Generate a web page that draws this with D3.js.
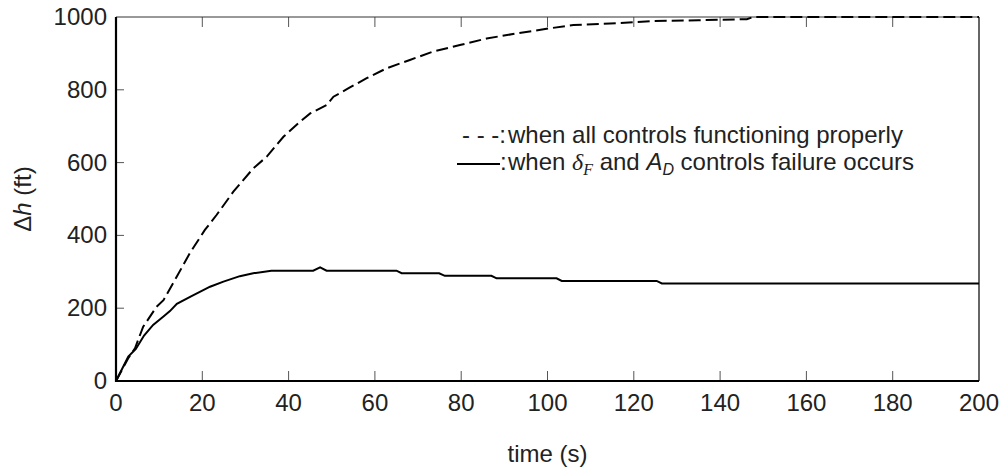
<!DOCTYPE html>
<html>
<head>
<meta charset="utf-8">
<script src="https://cdn.jsdelivr.net/npm/d3@7"></script>
<style>
  body { margin: 0; background: #fff; }
  text { font-family: "Liberation Sans", Arial, Helvetica, sans-serif; fill: #222; }
</style>
</head>
<body>
<svg id="chart" width="1008" height="469"></svg>
<script>
// time (s) and altitude change (ft), all controls OK
const timeFull = [0, 2.8, 4.4, 6.3, 9.4, 11, 14.1, 17.1, 20.6, 23.3, 27.2, 31.8, 34.9, 38.8, 42.6, 45, 48.8, 50.4, 54, 58.1, 62.7, 68.1, 73.5, 79.7, 85.9, 92.9, 100.6, 106, 114.5, 124.5, 135, 146.2, 147.7, 200];
const dhFull   = [0, 62, 90, 149, 204, 222, 287, 351, 415, 456, 520, 584, 616, 671, 712, 735, 758, 781, 805, 832, 859, 882, 905, 923, 941, 955, 969, 978, 982, 989, 991, 994, 1000, 1000];

// dF and AD controls failed
const timeFail = [0, 2.85, 4.6, 6.5, 8.6, 11, 12.5, 14.1, 17.5, 21.8, 24.9, 28.7, 31.8, 36, 45.7, 47.3, 48.8, 65, 66.2, 74.9, 76.2, 87, 88.2, 102.1, 103.3, 125.3, 126.5, 200];
const dhFail   = [0, 67, 88, 125, 154, 177, 192, 212, 233, 259, 273, 288, 296, 303, 303, 312, 303, 303, 296, 296, 289, 289, 282, 282, 275, 275, 268, 268];

const xTicks = [0, 20, 40, 60, 80, 100, 120, 140, 160, 180, 200];
const yTicks = [0, 200, 400, 600, 800, 1000];

const svg = d3.select("#chart");
const margin = {top: 17, right: 29, bottom: 88, left: 116};
const W = 1008, H = 469;

const x = d3.scaleLinear().domain([0, 200]).range([margin.left, W - margin.right]);
const y = d3.scaleLinear().domain([0, 1000]).range([H - margin.bottom, margin.top]);

// inward ticks on bottom/top/left
const g = svg.append("g");
g.selectAll(".xt").data(xTicks.slice(1, -1)).join("line")
    .attr("x1", d => x(d)).attr("x2", d => x(d))
    .attr("y1", y(0)).attr("y2", y(0) - 10)
    .attr("stroke", "#555").attr("stroke-width", 1);
g.selectAll(".xtt").data(xTicks.slice(1, -1)).join("line")
    .attr("x1", d => x(d)).attr("x2", d => x(d))
    .attr("y1", y(1000)).attr("y2", y(1000) + 10)
    .attr("stroke", "#555").attr("stroke-width", 1);
g.selectAll(".yt").data(yTicks.slice(1, -1)).join("line")
    .attr("x1", x(0)).attr("x2", x(0) + 8)
    .attr("y1", d => y(d)).attr("y2", d => y(d))
    .attr("stroke", "#555").attr("stroke-width", 1);

// tick labels
g.selectAll(".xl").data(xTicks).join("text")
    .attr("x", d => x(d)).attr("y", y(0) + 30)
    .attr("text-anchor", "middle").attr("font-size", 24)
    .text(d => d);
g.selectAll(".yl").data(yTicks).join("text")
    .attr("x", x(0) - 9).attr("y", d => y(d) + 8)
    .attr("text-anchor", "end").attr("font-size", 24)
    .text(d => d);

// frame
svg.append("line").attr("x1", x(0)).attr("x2", x(200)).attr("y1", y(1000)).attr("y2", y(1000))
    .attr("stroke", "#333").attr("stroke-width", 1);
svg.append("line").attr("x1", x(200)).attr("x2", x(200)).attr("y1", y(1000)).attr("y2", y(0))
    .attr("stroke", "#333").attr("stroke-width", 1.5);
svg.append("line").attr("x1", x(0)).attr("x2", x(0)).attr("y1", y(1000)).attr("y2", y(0) + 1)
    .attr("stroke", "#000").attr("stroke-width", 2.2);
svg.append("line").attr("x1", x(0) - 1).attr("x2", x(200)).attr("y1", y(0)).attr("y2", y(0))
    .attr("stroke", "#000").attr("stroke-width", 2.2);

// curves
const line = d3.line().x(d => x(d[0])).y(d => y(d[1]));
svg.append("path")
    .datum(d3.zip(timeFull, dhFull))
    .attr("d", line).attr("fill", "none")
    .attr("stroke", "#000").attr("stroke-width", 2)
    .attr("stroke-dasharray", "12,5");
svg.append("path")
    .datum(d3.zip(timeFail, dhFail))
    .attr("d", line).attr("fill", "none")
    .attr("stroke", "#000").attr("stroke-width", 2);

// axis titles
svg.append("text")
    .attr("x", (x(0) + x(200)) / 2).attr("y", 462)
    .attr("text-anchor", "middle").attr("font-size", 24)
    .text("time (s)");

const yt = svg.append("text")
    .attr("transform", `translate(31,${(y(0) + y(1000)) / 2}) rotate(-90)`)
    .attr("text-anchor", "middle").attr("font-size", 24);
yt.append("tspan").text("Δ");
yt.append("tspan").attr("font-style", "italic").text("h");
yt.append("tspan").text(" (ft)");

// legend
const lg = svg.append("g");
lg.append("text").attr("x", 462).attr("y", 143).attr("font-size", 24)
    .text("- - -:");
lg.append("text").attr("x", 508).attr("y", 143).attr("font-size", 24)
    .text("when all controls functioning properly");
lg.append("line").attr("x1", 457).attr("x2", 500).attr("y1", 164).attr("y2", 164)
    .attr("stroke", "#000").attr("stroke-width", 2);
lg.append("text").attr("x", 500).attr("y", 170).attr("font-size", 24).text(":");
const l2 = lg.append("text").attr("x", 508).attr("y", 170).attr("font-size", 24);
l2.append("tspan").text("when ");
l2.append("tspan").attr("font-family", "'Liberation Serif', 'DejaVu Serif', serif")
    .attr("font-style", "italic").attr("font-size", 24).text("δ");
l2.append("tspan").attr("font-family", "'Liberation Serif', 'DejaVu Serif', serif")
    .attr("font-style", "italic").attr("font-size", 16).attr("dy", 5).text("F");
l2.append("tspan").attr("dy", -5).text(" and ");
l2.append("tspan").attr("font-style", "italic").text("A");
l2.append("tspan").attr("font-style", "italic").attr("font-size", 16).attr("dy", 5).text("D");
l2.append("tspan").attr("dy", -5).text(" controls failure occurs");
</script>
</body>
</html>
